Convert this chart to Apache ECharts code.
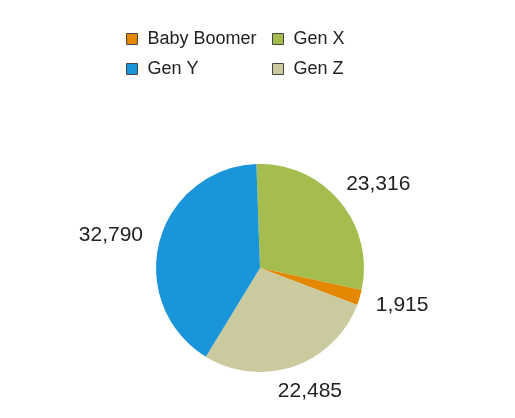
<!DOCTYPE html>
<html>
<head>
<meta charset="utf-8">
<script src="https://cdn.jsdelivr.net/npm/echarts@6/dist/echarts.min.js"></script>
<style>
  html, body { margin: 0; padding: 0; background: #fff; }
  #pie { width: 515px; height: 418px; }
</style>
</head>
<body>
<div id="pie"></div>
<script>
  // slices, clockwise from the top
  const categories = ['Gen X', 'Baby Boomer', 'Gen Z', 'Gen Y'];
  const values = [23316, 1915, 22485, 32790];
  const colors = ['#A5BC4E', '#E48701', '#CACA9E', '#1B95D9'];
  // legend columns
  const legendCol1 = ['Baby Boomer', 'Gen Y'];
  const legendCol2 = ['Gen X', 'Gen Z'];

  const CX = 260, CY = 268, RADIUS = 104, START = 92
  const LABEL_R = 122

  let mychart = echarts.init(document.getElementById('pie'));

  function legendAt(left, names) {
    return {
      orient: 'vertical',
      left: left,
      top: 25,
      data: names,
      icon: 'rect',
      itemWidth: 11,
      itemHeight: 11,
      itemGap: 12,
      selectedMode: false,
      itemStyle: { borderColor: '#444', borderWidth: 1 },
      textStyle: {
        fontFamily: 'Liberation Sans',
        fontSize: 18,
        color: '#222',
        padding: [0, 0, 0, 5]
      }
    }
  }

  let pieData = []
  for (let i = 0; i < categories.length; i++) {
    pieData.push({
      name: categories[i],
      value: values[i],
      itemStyle: { color: colors[i] }
    })
  }

  // mid angle of each slice (degrees, counter-clockwise from +x)
  let total = values.reduce((a, b) => a + b, 0)
  let midAngles = []
  let cum = 0
  values.forEach(v => {
    midAngles.push(START - (cum + v / 2) / total * 360)
    cum += v
  })

  // put each label just off the rim, shifted by half its box along the slice direction
  function placeLabel(params) {
    let a = midAngles[params.dataIndex] * Math.PI / 180
    let c = Math.cos(a), s = Math.sin(a)
    let w = params.labelRect.width
    let h = 16
    return {
      x: CX + c * LABEL_R + c * w / 2,
      y: CY - s * LABEL_R - s * h / 2,
      align: 'center',
      verticalAlign: 'middle'
    }
  }

  mychart.setOption({
    animation: false,
    legend: [legendAt(121, legendCol1), legendAt(267, legendCol2)],
    series: [{
      type: 'pie',
      center: [CX, CY],
      radius: RADIUS,
      startAngle: START,
      clockwise: true,
      avoidLabelOverlap: false,
      itemStyle: { borderWidth: 0 },
      label: {
        show: true,
        position: 'outside',
        fontFamily: 'Liberation Sans',
        fontSize: 21,
        color: '#222',
        formatter: p => p.value.toLocaleString('en-US')
      },
      labelLine: { show: false },
      labelLayout: placeLabel,
      emphasis: { disabled: true },
      data: pieData
    }]
  })
</script>
</body>
</html>
